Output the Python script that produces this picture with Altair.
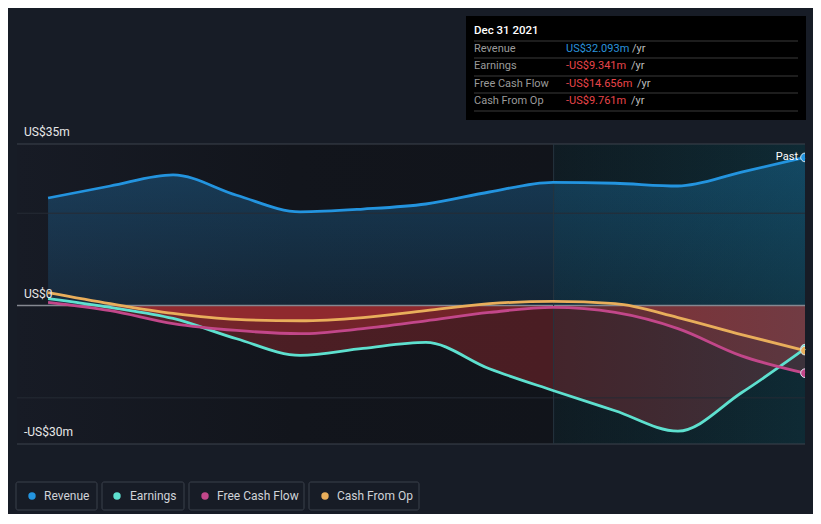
import altair as alt
import pandas as pd

# ---------------- data (US$ millions) ----------------
dates = ["2018-12-31", "2019-03-31", "2019-06-30", "2019-09-30", "2019-12-31",
         "2020-03-31", "2020-06-30", "2020-09-30", "2020-12-31", "2021-03-31",
         "2021-06-30", "2021-09-30", "2021-12-31"]
revenue = [23.3, 25.9, 28.3, 23.9, 20.3, 20.9, 22.0, 24.6, 26.7, 26.5, 25.9, 28.9, 32.093]
earnings = [1.5, -0.4, -2.8, -7.2, -10.8, -9.3, -8.0, -13.7, -18.4, -22.8, -27.2, -18.9, -9.341]
free_cash_flow = [0.7, -1.1, -3.9, -5.4, -6.1, -5.0, -3.3, -1.5, -0.4, -1.5, -5.0, -10.9, -14.656]
cash_from_op = [2.8, 0.4, -1.7, -3.0, -3.3, -2.6, -1.1, 0.4, 0.9, 0.4, -2.6, -6.3, -9.761]

series_names = ["Revenue", "Earnings", "Free Cash Flow", "Cash From Op"]
series_colors = ["#2394df", "#5ee0cf", "#c2478a", "#e9ae5b"]

y_tick_values = [35, 0, -30]
y_tick_labels = ["US$35m", "US$0", "-US$30m"]
outer_grid = [35, -30]
inner_grid = [20, -20]

tooltip_title = "Dec 31 2021"
tooltip_values = ["US$32.093m", "-US$9.341m", "-US$14.656m", "-US$9.761m"]

FONT = "Roboto"

# ---------------- tables ----------------
all_series = [revenue, earnings, free_cash_flow, cash_from_op]
rows = []
for name, vals in zip(series_names, all_series):
    for d, v in zip(dates, vals):
        rows.append({"date": d, "series": name, "value": v})
df = pd.DataFrame(rows)
df_last = pd.DataFrame({"date": [dates[-1]] * 4, "series": series_names,
                        "value": [s[-1] for s in all_series]})

x_scale = alt.Scale(type="utc",
                    domain=[alt.DateTime(year=2018, month=11, date=16, utc=True),
                            alt.DateTime(year=2021, month=12, date=31, utc=True)])
y_scale = alt.Scale(domain=[-30, 35], nice=False, zero=False)
color_scale = alt.Scale(domain=series_names, range=series_colors)

X = alt.X("date:T", scale=x_scale, axis=None)

# background gradient for the plot area
bg_df = pd.DataFrame({"s": ["2018-11-16"], "e": ["2021-12-31"]})
bg = alt.Chart(bg_df).mark_rect(
    fill=alt.Gradient(gradient="linear",
                      stops=[alt.GradientStop(color="#171b25", offset=0),
                             alt.GradientStop(color="#12151c", offset=0.35),
                             alt.GradientStop(color="#101319", offset=1)],
                      x1=0, x2=1, y1=0, y2=0)
).encode(x=alt.X("s:T", scale=x_scale, axis=None), x2="e:T",
         y=alt.value(0), y2=alt.value(300))

# revenue area
rev_area = alt.Chart(df).transform_filter(
    alt.datum.series == "Revenue"
).transform_calculate(zero="0").mark_area(
    interpolate="monotone",
    fill=alt.Gradient(gradient="linear",
                      stops=[alt.GradientStop(color="rgba(35,148,223,0.30)", offset=0),
                             alt.GradientStop(color="rgba(35,148,223,0.13)", offset=1)],
                      x1=0, x2=0, y1=0, y2=1)
).encode(x=X, y=alt.Y("value:Q", scale=y_scale, axis=None, stack=None), y2="zero:Q")

# negative (red) areas
neg_area = alt.Chart(df).transform_filter(
    alt.datum.series != "Revenue"
).transform_calculate(
    neg="min(datum.value, 0)", zero="0"
).mark_area(interpolate="monotone", color="#cf3539", opacity=0.3).encode(
    x=X, y=alt.Y("neg:Q", scale=y_scale, axis=None, stack=None), y2="zero:Q",
    detail="series:N")

# recent-period overlay band
band_df = pd.DataFrame({"s": ["2021-01-01"], "e": ["2021-12-31"]})
band = alt.Chart(band_df).mark_rect(
    fill=alt.Gradient(gradient="linear",
                      stops=[alt.GradientStop(color="rgba(0,110,125,0.09)", offset=0),
                             alt.GradientStop(color="rgba(10,125,150,0.22)", offset=1)],
                      x1=0, x2=1, y1=0, y2=0)
).encode(x=alt.X("s:T", scale=x_scale, axis=None), x2="e:T",
         y=alt.value(0), y2=alt.value(300))

# gridlines
outer = alt.Chart(pd.DataFrame({"v": outer_grid})).mark_rule(
    color="#3d424d", strokeWidth=1).encode(y=alt.Y("v:Q", scale=y_scale, axis=None))
inner = alt.Chart(pd.DataFrame({"v": inner_grid})).mark_rule(
    color="#262b35", strokeWidth=1).encode(y=alt.Y("v:Q", scale=y_scale, axis=None))
zero_line = alt.Chart(pd.DataFrame({"v": [0]})).mark_rule(
    color="#858891", strokeWidth=1.5).encode(y=alt.Y("v:Q", scale=y_scale, axis=None))

# vertical line at 2021 + x axis
vline = alt.Chart(pd.DataFrame({"d": ["2021-01-01"]})).mark_rule(
    color="#26343e", strokeWidth=1).encode(
    x=alt.X("d:T", scale=x_scale,
            axis=alt.Axis(values=[alt.DateTime(year=2019, month=1, date=1, utc=True),
                                  alt.DateTime(year=2020, month=1, date=1, utc=True),
                                  alt.DateTime(year=2021, month=1, date=1, utc=True)],
                          format="%Y", title=None, grid=False, domain=False,
                          labelColor="#e6e6e6", labelFontSize=12, labelFont=FONT,
                          tickColor="#4a505a", tickSize=4, labelPadding=3)))

# lines
lines = alt.Chart(df).mark_line(interpolate="monotone", strokeWidth=2.8).encode(
    x=X, y=alt.Y("value:Q", scale=y_scale, axis=None),
    color=alt.Color("series:N", scale=color_scale, legend=None))

end_pts = alt.Chart(df_last).mark_circle(
    size=75, opacity=1, stroke="#d8e6ee", strokeWidth=1, clip=True).encode(
    x=X, y=alt.Y("value:Q", scale=y_scale, axis=None),
    color=alt.Color("series:N", scale=color_scale, legend=None))
past_lbl = alt.Chart(df_last).transform_filter(
    alt.datum.series == "Revenue").mark_text(
    align="right", baseline="middle", dx=-7, fontSize=11, font=FONT, color="#ffffff"
).encode(x=X, y=alt.Y("value:Q", scale=y_scale, axis=None), text=alt.value("Past"))

# y labels
ylab = alt.Chart(pd.DataFrame({"v": y_tick_values, "t": y_tick_labels})).mark_text(
    align="left", baseline="middle", dy=-12, fontSize=12, font=FONT, color="#e8e8e8"
).encode(x=alt.value(7), y=alt.Y("v:Q", scale=y_scale, axis=None), text="t:N")

# ---------------- tooltip box ----------------
tt_box = alt.Chart(pd.DataFrame({"a": [0]})).mark_rect(color="#000000").encode(
    x=alt.value(449), x2=alt.value(789), y=alt.value(-128), y2=alt.value(-24))
tt_title = alt.Chart(pd.DataFrame({"t": [tooltip_title]})).mark_text(
    align="left", baseline="middle", fontSize=11.5, font=FONT, fontWeight=500,
    color="#ffffff").encode(x=alt.value(457), y=alt.value(-113), text="t:N")
div_y = [-103, -86, -68, -51, -33]
tt_divs = alt.Chart(pd.DataFrame({"y": div_y})).mark_rule(color="#3a3a3a").encode(
    x=alt.value(457), x2=alt.value(781), y=alt.Y("y:Q", scale=None))
row_y = [-95, -78, -60, -43]
yr_x = [615, 614, 620, 614]
value_colors = ["#2a93dc", "#e8454a", "#e8454a", "#e8454a"]
tt_rows = pd.DataFrame({"name": series_names, "val": tooltip_values, "y": row_y,
                        "yx": yr_x, "c": value_colors})
tt_names = alt.Chart(tt_rows).mark_text(
    align="left", baseline="middle", fontSize=11, font=FONT, color="#9a9a9a").encode(
    x=alt.value(457), y=alt.Y("y:Q", scale=None), text="name:N")
tt_vals = alt.Chart(tt_rows).mark_text(
    align="left", baseline="middle", fontSize=11, font=FONT).encode(
    x=alt.value(549), y=alt.Y("y:Q", scale=None), text="val:N",
    color=alt.Color("c:N", scale=None))
tt_yr = alt.Chart(tt_rows).mark_text(
    align="left", baseline="middle", fontSize=11, font=FONT, color="#bdbdbd").encode(
    x=alt.X("yx:Q", scale=None), y=alt.Y("y:Q", scale=None), text=alt.value("/yr"))

# ---------------- legend ----------------
leg = pd.DataFrame({"name": series_names, "c": series_colors,
                    "x0": [-1, 85, 172, 292], "x1": [80, 167, 287, 402],
                    "cx": [15, 100, 188, 308], "tx": [27, 113, 200, 320]})
leg_box = alt.Chart(leg).mark_rect(fillOpacity=0, stroke="#3b404b", strokeWidth=1,
                                   cornerRadius=2).encode(
    x=alt.X("x0:Q", scale=None), x2="x1:Q", y=alt.value(338), y2=alt.value(366))
leg_dot = alt.Chart(leg).mark_circle(size=55, opacity=1).encode(
    x=alt.X("cx:Q", scale=None), y=alt.value(352), color=alt.Color("c:N", scale=None))
leg_txt = alt.Chart(leg).mark_text(align="left", baseline="middle", fontSize=12,
                                   font=FONT, color="#d0d3d8").encode(
    x=alt.X("tx:Q", scale=None), y=alt.value(352), text="name:N")

chart = alt.layer(
    bg, rev_area, neg_area, band, inner, outer, zero_line, vline, lines, end_pts,
    past_lbl, ylab, tt_box, tt_title, tt_divs, tt_names, tt_vals, tt_yr,
    leg_box, leg_dot, leg_txt
).resolve_scale(color="independent").properties(
    width=788, height=300,
    autosize=alt.AutoSizeParams(type="none"),
    padding={"left": 9, "top": 136, "right": 8, "bottom": 70},
    background="#171c26"
).configure_view(stroke=None)

chart.save("out.html", embed_options={"renderer": "svg", "actions": False})
